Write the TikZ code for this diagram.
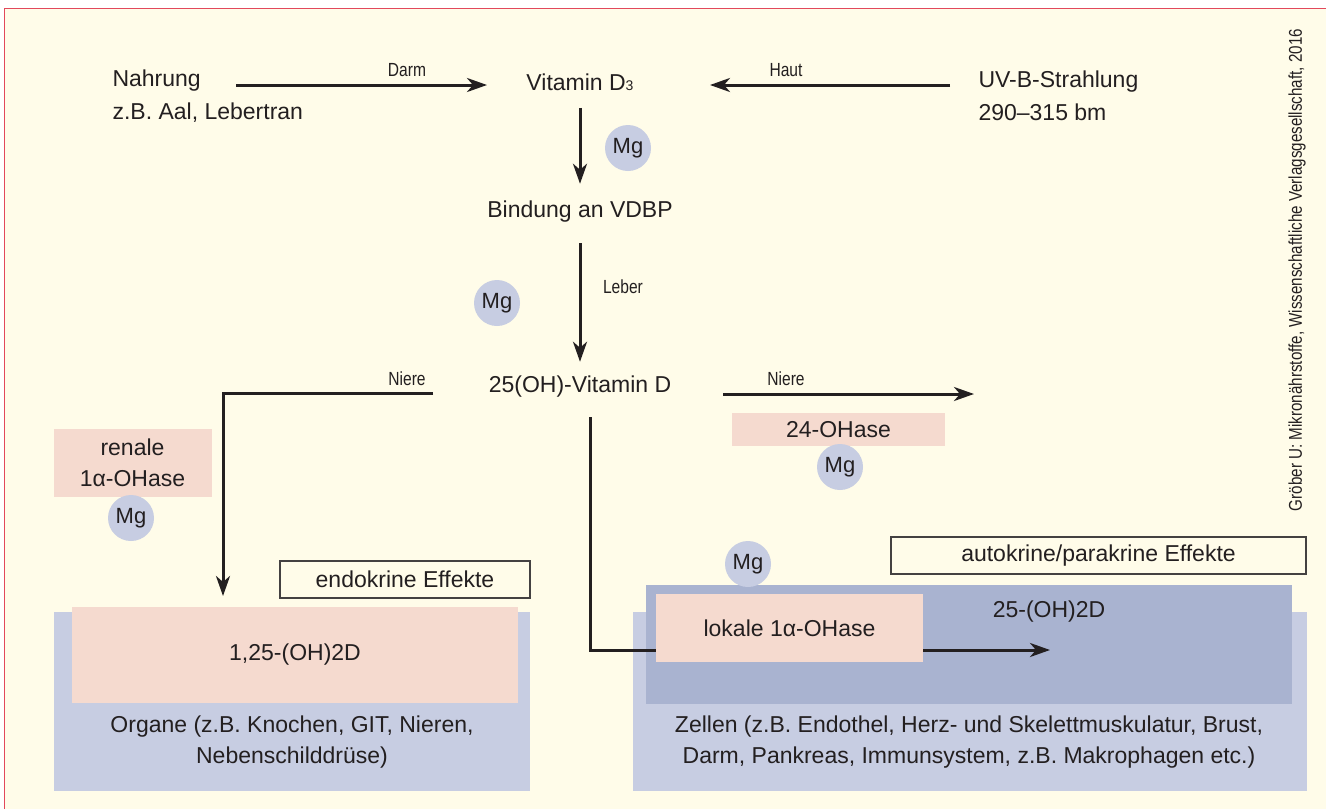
\documentclass[tikz,border=0pt]{standalone}
\usepackage{fontspec}
\setmainfont{Liberation Sans}
\newfontfamily\narrowfont[FakeStretch=0.82]{Liberation Sans}
\usepackage{tikz}
\usetikzlibrary{positioning}
\usetikzlibrary{arrows.meta}
\definecolor{cream}{RGB}{255,252,233}
\definecolor{frame}{RGB}{226,72,92}
\definecolor{pinkfill}{RGB}{245,218,207}
\definecolor{bluelight}{RGB}{199,205,226}
\definecolor{bluedark}{RGB}{169,179,208}
\definecolor{txt}{RGB}{35,31,32}
\tikzset{
  arr/.style={-{Stealth[length=20pt,width=14pt,inset=6pt]}, line width=3pt, draw=txt},
  lbl/.style={font=\narrowfont\fontsize{19}{22}\selectfont},
  mg/.style={circle, fill=bluelight, minimum size=46pt, inner sep=0pt, font=\fontsize{22}{24}\selectfont},
  pinkbox/.style={fill=pinkfill, inner sep=0pt, align=center},
  effbox/.style={draw=txt!85, line width=1.5pt, fill=cream, inner sep=0pt}
}

\begin{document}
\begin{tikzpicture}[x=1pt, y=-1pt, font=\fontsize{23}{31}\selectfont, every node/.style={text=txt}]
  \useasboundingbox (0,0) rectangle (1326,809);
  \fill[white] (0,0) rectangle (1326,809);
  \fill[cream] (4,8) rectangle (1326,809);
  \draw[frame, line width=1pt] (4,809) -- (4,8) -- (1326,8);

  % Quellen und Vitamin D3
  \node[align=left, anchor=west, font=\fontsize{23}{33}\selectfont] (food) at (109,96) {Nahrung\\z.B. Aal, Lebertran};
  \node (vitd) at (580,82) {Vitamin D{\fontsize{14}{14}\selectfont 3}};
  \node[align=left, anchor=west, font=\fontsize{23}{33}\selectfont] (uvb) at (975,96) {UV-B-Strahlung\\290–315 bm};
  \node (vdbp) at (580,212) {Bindung an VDBP};
  \node (ohd) at (580,387) {25(OH)-Vitamin D};

  \coordinate (darm0) at (236,85);
  \coordinate (darm1) at (487,85);
  \coordinate (haut0) at (950,85);
  \coordinate (haut1) at (710,85);
  \draw[arr] (darm0) -- (darm1);
  \draw[arr] (haut0) -- (haut1);
  \node[lbl] (darm) at (407,70) {Darm};
  \node[lbl] (haut) at (786,70) {Haut};

  \draw[arr, shorten <=14pt, shorten >=14pt] (vitd.south) -- (vdbp.north);
  \draw[arr, shorten <=17pt, shorten >=11pt] (vdbp.south) -- (ohd.north);
  \node[lbl] (leber) at (623,287) {Leber};
  \node[mg] (mg1) at (628,148) {Mg};
  \node[mg] (mg2) at (497,303) {Mg};

  % Niere links und rechts
  \coordinate (nl0) at (433,393);
  \coordinate (nl1) at (223,596);
  \draw[arr] (nl0) -| (nl1);
  \node[lbl] (nierel) at (407,379) {Niere};
  \coordinate (nr0) at (723,394);
  \coordinate (nr1) at (974,394);
  \draw[arr] (nr0) -- (nr1);
  \node[lbl] (nierer) at (786,379) {Niere};

  \node[pinkbox, minimum width=158pt, minimum height=68pt] (renal) at (132.5,463) {renale\\1α-OHase};
  \node[mg] (mg3) at (131,518) {Mg};
  \node[pinkbox, minimum width=213pt, minimum height=33pt] (oh24) at (838.5,429.5) {24-OHase};
  \node[mg] (mg4) at (840,467) {Mg};

  % endokrine Effekte
  \node[effbox, minimum width=250pt, minimum height=37pt] (endo) at (405,579.5) {endokrine Effekte};
  \node[fill=bluelight, minimum width=476pt, minimum height=179pt] (organe) at (292,701.5) {};
  \node[pinkbox, minimum width=446pt, minimum height=96pt] (oh125) at (295,655) {1,25-(OH)2D};
  \node[align=center] (organtxt) at (292,742) {Organe (z.B. Knochen, GIT, Nieren,\\Nebenschilddrüse)};

  % autokrine/parakrine Effekte
  \node[effbox, minimum width=415pt, minimum height=37pt] (auto) at (1098.5,555.5) {autokrine/parakrine Effekte};
  \node[fill=bluelight, minimum width=674pt, minimum height=179pt] (zellen) at (970,701.5) {};
  \node[fill=bluedark, minimum width=646pt, minimum height=119pt] (zelle) at (969,644.5) {};
  \coordinate (lo0) at (590,417);
  \coordinate (lo1) at (1050,650);
  \draw[arr] (lo0) |- (lo1);
  \node[pinkbox, minimum width=267pt, minimum height=68pt] (lokal) at (789.5,628) {lokale 1α-OHase};
  \node (oh25) at (1049,612) {25-(OH)2D};
  \node[mg] (mg5) at (748,564) {Mg};
  \node[align=center] (zelltxt) at (969,742) {Zellen (z.B. Endothel, Herz- und Skelettmuskulatur, Brust,\\Darm, Pankreas, Immunsystem, z.B. Makrophagen etc.)};

  \node[rotate=90, font=\narrowfont\fontsize{18.5}{20}\selectfont] (credit) at (1297,270) {Gröber U: Mikronährstoffe, Wissenschaftliche Verlagsgesellschaft, 2016};
\end{tikzpicture}
\end{document}
